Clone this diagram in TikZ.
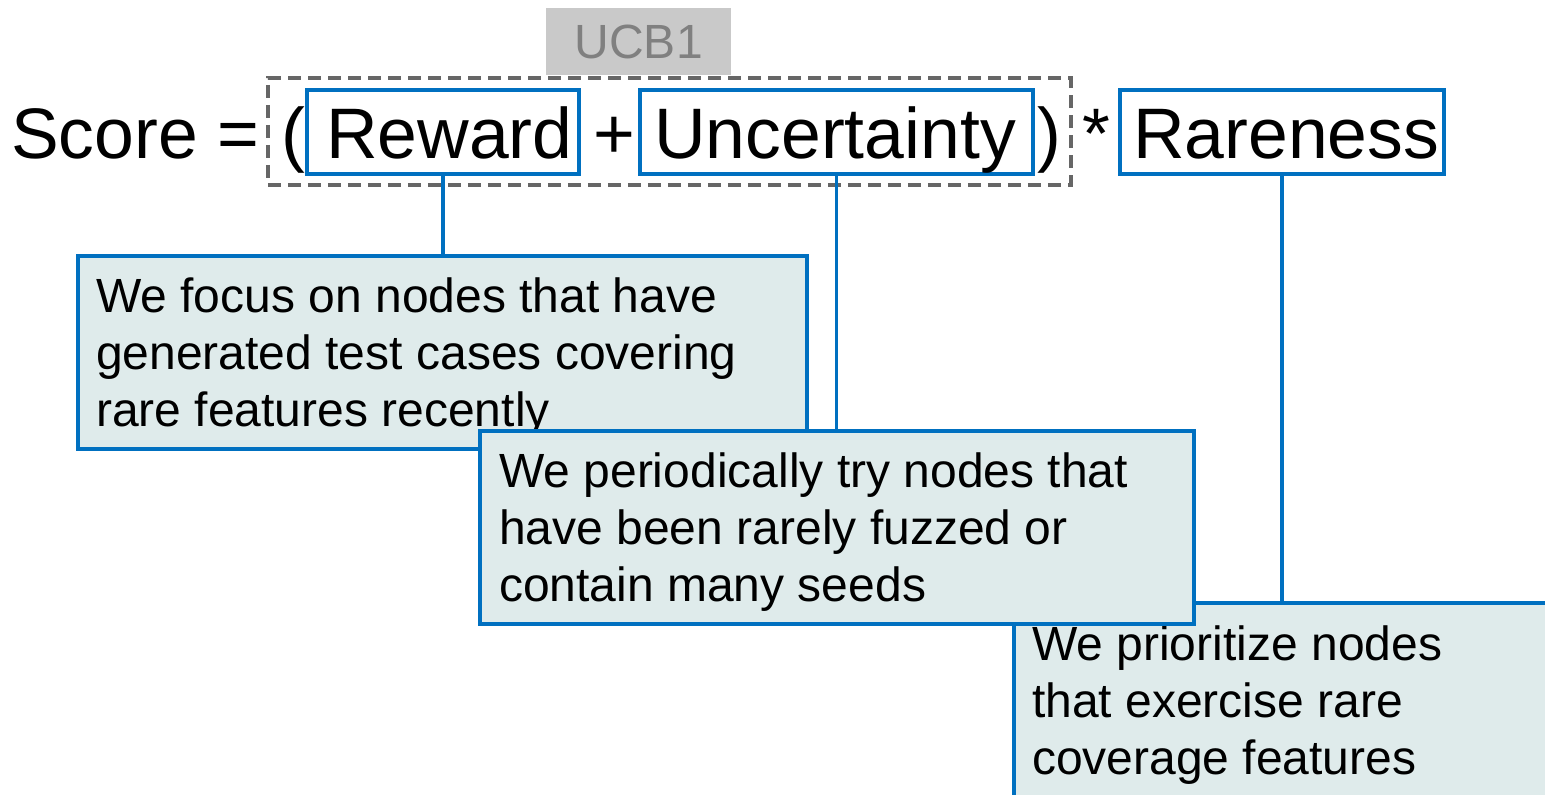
\documentclass[tikz,border=0pt]{standalone}
\usepackage{fontspec}
\setmainfont{Liberation Sans}
\definecolor{ppblue}{HTML}{0070C0}
\definecolor{notefill}{HTML}{DFEBEB}
\definecolor{ucbfill}{HTML}{C9C9C9}
\definecolor{ucbtext}{HTML}{808080}
\definecolor{dashgray}{HTML}{666666}
\begin{document}
\begin{tikzpicture}[x=1pt,y=-1pt,
  big/.style={font=\fontsize{71.5}{80}\selectfont, inner sep=0pt, anchor=base west},
  note/.style={font=\fontsize{48}{57}\selectfont, inner sep=0pt, anchor=base west},
  termbox/.style={draw=ppblue, line width=3.5pt, inner sep=0pt, anchor=north west},
  notebox/.style={draw=ppblue, line width=3.5pt, fill=notefill, inner sep=0pt, anchor=north west},
  link/.style={draw=ppblue, line width=3.5pt}]
\useasboundingbox (0,0) rectangle (1545,795);
% UCB1 label and dashed group
\node[fill=ucbfill, inner sep=0pt, anchor=north west, minimum width=185pt, minimum height=67pt,
      font=\fontsize{48}{57}\selectfont, text=ucbtext] (ucb) at (546,8) {UCB1};
\node[draw=dashgray, line width=3.5pt, dash pattern=on 13pt off 7pt, inner sep=0pt, anchor=north west,
      minimum width=803pt, minimum height=107pt] (grp) at (266,76) {};
% term boxes
\node[termbox, minimum width=272pt, minimum height=84pt] (rewbox) at (305,88) {};
\node[termbox, minimum width=393pt, minimum height=84pt] (uncbox) at (638,88) {};
\node[termbox, minimum width=324pt, minimum height=84pt] (rarbox) at (1118,88) {};
% formula text
\node[big] (score) at (11,158) {Score =};
\node[big] (lpar) at (281,158) {(};
\node[big] (rew) at (326,158) {Reward};
\node[big] (plus) at (593,158) {+};
\node[big] (unc) at (654,158) {Uncertainty};
\node[big] (rpar) at (1037,158) {)};
\node[big] (star) at (1082,158) {*};
\node[big] (rar) at (1133,158) {Rareness};
% note boxes
\node[notebox, minimum width=729pt, minimum height=193pt] (b1) at (76,254) {};
\draw[link] (rewbox.south) -- (rewbox.south |- b1.north);
\node[note] (b1l1) at (96,312) {We focus on nodes that have};
\node[note] (b1l2) at (96,369) {generated test cases covering};
\node[note] (b1l3) at (96,426) {rare features recently};
\node[notebox, minimum width=540pt, minimum height=200pt] (b3) at (1012,601) {};
\draw[link] (rarbox.south) -- (rarbox.south |- b3.north);
\node[note] (b3l1) at (1032,660) {We prioritize nodes};
\node[note] (b3l2) at (1032,717) {that exercise rare};
\node[note] (b3l3) at (1032,774) {coverage features};
\node[notebox, minimum width=714pt, minimum height=193pt] (b2) at (478,429) {};
\draw[link] (uncbox.south) -- (uncbox.south |- b2.north);
\node[note] (b2l1) at (499,487) {We periodically try nodes that};
\node[note] (b2l2) at (499,544) {have been rarely fuzzed or};
\node[note] (b2l3) at (499,601) {contain many seeds};
\end{tikzpicture}
\end{document}
